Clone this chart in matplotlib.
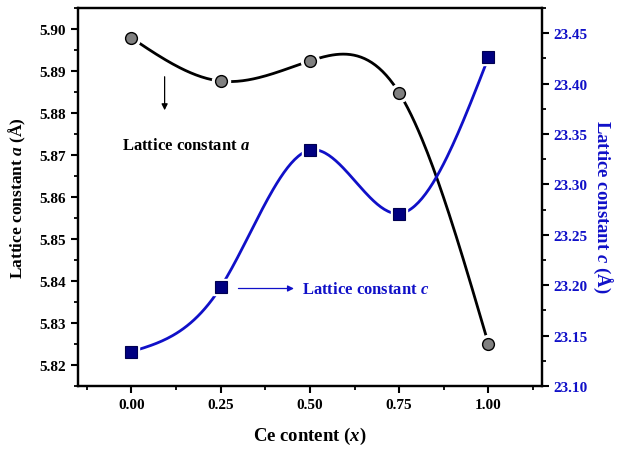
import numpy as np
import matplotlib
matplotlib.use('Agg')
from matplotlib import pyplot as plt
from matplotlib.ticker import MultipleLocator

# Data
ce_content = [0.00, 0.25, 0.50, 0.75, 1.00]
lattice_a = [5.8979, 5.8876, 5.8924, 5.8848, 5.8250]
lattice_c = [23.134, 23.198, 23.334, 23.271, 23.426]


def natural_spline(x, y, n=200):
    # plain natural cubic spline, just for the smooth connecting line
    x = np.asarray(x, float)
    y = np.asarray(y, float)
    h = np.diff(x)
    k = len(x)
    A = np.zeros((k, k))
    b = np.zeros(k)
    A[0, 0] = A[-1, -1] = 1
    for i in range(1, k - 1):
        A[i, i - 1] = h[i - 1]
        A[i, i] = 2 * (h[i - 1] + h[i])
        A[i, i + 1] = h[i]
        b[i] = 6 * ((y[i + 1] - y[i]) / h[i] - (y[i] - y[i - 1]) / h[i - 1])
    M = np.linalg.solve(A, b)
    xs = np.linspace(x[0], x[-1], n)
    ys = np.empty_like(xs)
    for j, t in enumerate(xs):
        i = min(np.searchsorted(x, t, side='right') - 1, k - 2)
        a0 = x[i + 1] - t
        a1 = t - x[i]
        ys[j] = (M[i] * a0 ** 3 + M[i + 1] * a1 ** 3) / (6 * h[i]) \
            + (y[i] / h[i] - M[i] * h[i] / 6) * a0 \
            + (y[i + 1] / h[i] - M[i + 1] * h[i] / 6) * a1
    return xs, ys


plt.rcParams['font.family'] = 'Liberation Serif'
plt.rcParams['font.weight'] = 'bold'
plt.rcParams['mathtext.fontset'] = 'custom'
plt.rcParams['mathtext.it'] = 'Liberation Serif:italic:bold'
plt.rcParams['mathtext.rm'] = 'Liberation Serif:bold'

blue = '#1010c8'
navy = '#000080'

fig = plt.figure(figsize=(6.18, 4.52), dpi=100)
ax = fig.add_axes([0.126, 0.144, 0.751, 0.836])
ax2 = ax.twinx()

# lattice a (left axis)
xs, ys = natural_spline(ce_content, lattice_a)
ax.plot(xs, ys, color='black', lw=2, zorder=2)
ax.plot(ce_content, lattice_a, 'o', ms=13, color='white', mec='white', zorder=3)
ax.plot(ce_content, lattice_a, 'o', ms=8.5, mfc='#808080', mec='black', mew=1, zorder=4)

# lattice c (right axis)
xs, ys = natural_spline(ce_content, lattice_c)
ax2.plot(xs, ys, color=blue, lw=2, zorder=2)
ax2.plot(ce_content, lattice_c, 's', ms=12, color='white', mec='white', zorder=3)
ax2.plot(ce_content, lattice_c, 's', ms=8, mfc=navy, mec='#000050', mew=0.8, zorder=4)

ax.set_xlim(-0.15, 1.15)
ax.set_ylim(5.815, 5.905)
ax2.set_ylim(23.10, 23.475)

ax.set_xticks(ce_content)
ax.set_xticklabels(['%.2f' % v for v in ce_content])
ax.xaxis.set_minor_locator(MultipleLocator(0.125))
ax.yaxis.set_major_locator(MultipleLocator(0.01))
ax.yaxis.set_minor_locator(MultipleLocator(0.005))
ax2.yaxis.set_major_locator(MultipleLocator(0.05))
ax2.yaxis.set_minor_locator(MultipleLocator(0.025))
ax.yaxis.set_major_formatter(plt.FormatStrFormatter('%.2f'))
ax2.yaxis.set_major_formatter(plt.FormatStrFormatter('%.2f'))

for a in (ax, ax2):
    for s in a.spines.values():
        s.set_linewidth(1.6)
    a.tick_params(which='major', direction='out', length=5, width=1.5, labelsize=11)
    a.tick_params(which='minor', direction='out', length=3, width=1.3)
ax2.tick_params(axis='y', labelcolor=blue)

ax.set_xlabel('Ce content ($\\mathit{x}$)', fontsize=13.5, fontweight='bold', labelpad=10)
ax.set_ylabel('Lattice constant $\\mathit{a}$ (Å)', fontsize=12.5, fontweight='bold', labelpad=8)
ax2.set_ylabel('Lattice constant $\\mathit{c}$ (Å)', fontsize=13.5, fontweight='bold',
               color=blue, rotation=270, va='center')
ax2.yaxis.set_label_coords(1.13, 0.478)

ax.annotate('', xy=(0.093, 5.8800), xytext=(0.093, 5.8893),
            arrowprops=dict(arrowstyle='-|>', color='black', lw=0.9, mutation_scale=9))
ax.text(0.152, 5.8724, 'Lattice constant $\\mathit{a}$', ha='center', va='center',
        fontsize=12, fontweight='bold', color='black')
ax.annotate('', xy=(0.463, 5.8382), xytext=(0.292, 5.8382),
            arrowprops=dict(arrowstyle='-|>', color=blue, lw=0.9, mutation_scale=9))
ax.text(0.478, 5.8382, 'Lattice constant $\\mathit{c}$', ha='left', va='center',
        fontsize=12, fontweight='bold', color=blue)

plt.savefig('out.png', dpi=100)
